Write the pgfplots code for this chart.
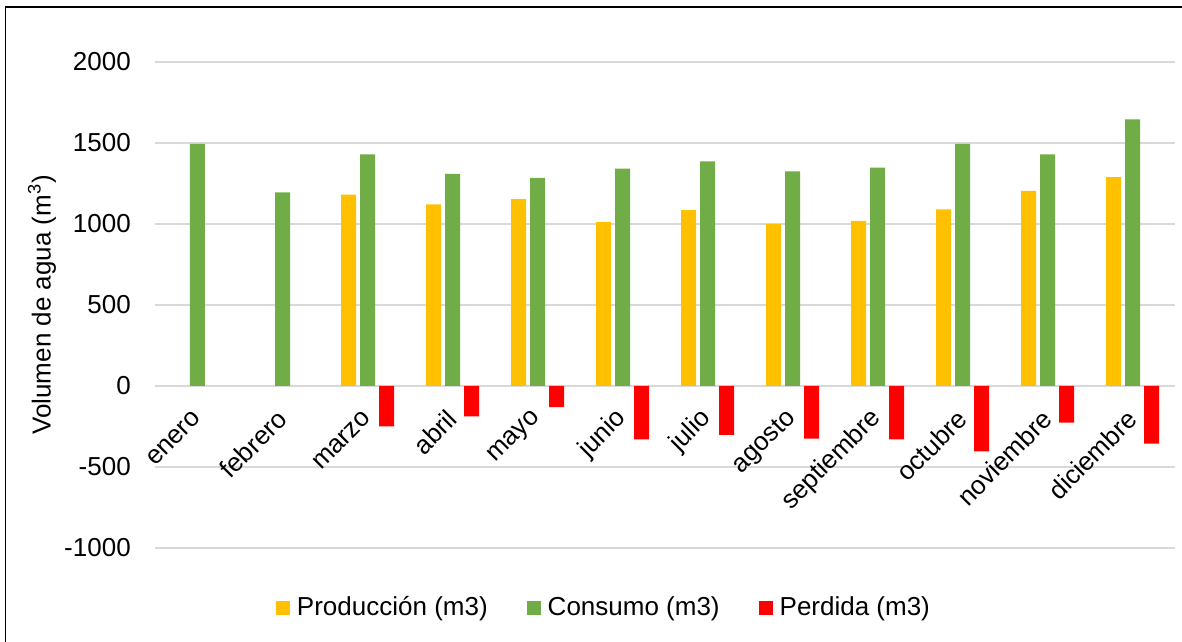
\documentclass[border=0pt]{standalone}
\usepackage{pgfplots}
\pgfplotsset{compat=1.18}
\usepackage{fontspec}
\setmainfont{Liberation Sans}

\definecolor{prodcol}{HTML}{FFC000}
\definecolor{conscol}{HTML}{70AD47}
\definecolor{perdcol}{HTML}{FF0000}
\definecolor{gridcol}{HTML}{D9D9D9}

\begin{document}
\begin{tikzpicture}
\fontsize{19.5}{23}\selectfont
% fixed page size
\useasboundingbox (-116.25pt,-70.5pt) rectangle (770.25pt,411pt);
\begin{axis}[
  at={(0,0)}, anchor=south west,
  scale only axis,
  width=765pt, height=364.5pt,
  ybar=3pt, bar width=11.25pt,
  xmin=-0.5, xmax=11.5,
  ymin=-1000, ymax=2000,
  ytick={-1000,-500,0,500,1000,1500,2000},
  xtick={0,...,11},
  xticklabels={enero,febrero,marzo,abril,mayo,junio,julio,agosto,septiembre,octubre,noviembre,diciembre},
  axis line style={draw=none},
  major tick length=0pt,
  ymajorgrids,
  grid style={gridcol, line width=1pt},
  /pgf/number format/assume math mode=true,
  /pgf/number format/1000 sep={},
  tick label style={font=\fontsize{19.5}{23}\selectfont},
  yticklabel style={xshift=-11.5pt},
  xticklabel shift={-100pt},
  xticklabel style={rotate=45, anchor=east, inner sep=0pt},
  every axis y label/.style={at={(axis description cs:0,0.5)}, xshift=-84.75pt, rotate=90, anchor=center},
  ylabel={Volumen de agua (m\textsuperscript{3})},
  legend columns=3,
  legend style={draw=none, fill=none, at={(axis description cs:0.44,0)}, anchor=center, yshift=-45pt,
    font=\fontsize{19.5}{23}\selectfont,
    nodes={inner sep=1pt, anchor=west},
    /tikz/every even column/.append style={column sep=28.5pt}},
  legend image code/.code={\path[#1, draw=none] (0pt,-5.25pt) rectangle (10.5pt,5.25pt);
    \path (14.5pt,0pt);},
]
\addplot[fill=prodcol, draw=none] coordinates {
  (2,1181) (3,1121) (4,1154) (5,1012) (6,1086) (7,1000) (8,1019) (9,1091) (10,1204) (11,1290)};
\addlegendentry{Producción (m3)}
\addplot[fill=conscol, draw=none] coordinates {
  (0,1494) (1,1195) (2,1430) (3,1309) (4,1284) (5,1342) (6,1387) (7,1325) (8,1348) (9,1494) (10,1430) (11,1646)};
\addlegendentry{Consumo (m3)}
\addplot[fill=perdcol, draw=none] coordinates {
  (2,-249) (3,-188) (4,-130) (5,-330) (6,-301) (7,-325) (8,-329) (9,-403) (10,-226) (11,-356)};
\addlegendentry{Perdida (m3)}
\end{axis}
% chart area border (left and top edges)
\draw[black, line width=1.2pt] (-112.125pt,-70.5pt) -- (-112.125pt,405.75pt) -- (770.25pt,405.75pt);
\end{tikzpicture}
\end{document}
